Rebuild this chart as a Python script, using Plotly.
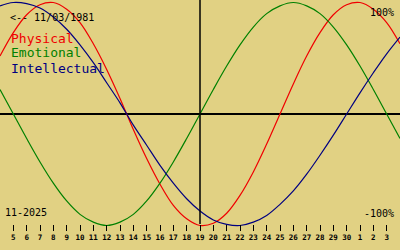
import plotly.graph_objects as go

# Days shown (continuous index: Nov 4 .. Dec 4, 2025 -> 4..34)
days = list(range(4, 35))
tick_days = list(range(5, 34))
tick_labels = [str(d) for d in range(5, 31)] + ["1", "2", "3"]

physical = [0.52, 0.73, 0.89, 0.98, 1.00, 0.94, 0.82, 0.63, 0.40, 0.14,
            -0.14, -0.40, -0.63, -0.82, -0.94, -1.00, -0.98, -0.89, -0.73, -0.52,
            -0.27, 0.00, 0.27, 0.52, 0.73, 0.89, 0.98, 1.00, 0.94, 0.82, 0.63]
emotional = [0.22, 0.00, -0.22, -0.43, -0.62, -0.78, -0.90, -0.97, -1.00, -0.97,
             -0.90, -0.78, -0.62, -0.43, -0.22, 0.00, 0.22, 0.43, 0.62, 0.78,
             0.90, 0.97, 1.00, 0.97, 0.90, 0.78, 0.62, 0.43, 0.22, 0.00, -0.22]
intellectual = [0.97, 1.00, 0.99, 0.95, 0.87, 0.76, 0.62, 0.46, 0.28, 0.10,
                -0.10, -0.28, -0.46, -0.62, -0.76, -0.87, -0.95, -0.99, -1.00, -0.97,
                -0.91, -0.81, -0.69, -0.54, -0.37, -0.19, 0.00, 0.19, 0.37, 0.54, 0.69]

today = 19
birth_text = "<-- 11/03/1981"
month_text = "11-2025"

BG = "#e1d183"
RED = "#f00000"
GREEN = "#008000"
BLUE = "#000080"
MONO = "DejaVu Sans Mono, Liberation Mono, monospace"

fig = go.Figure()
for name, vals, col in [("Physical", physical, RED),
                        ("Emotional", emotional, GREEN),
                        ("Intellectual", intellectual, BLUE)]:
    fig.add_trace(go.Scatter(x=days, y=vals, mode="lines", name=name,
                             line=dict(color=col, width=1.2, shape="spline", smoothing=1),
                             hoverinfo="skip"))

axis_pos = (250 - 224) / 250

fig.add_shape(type="line", xref="x", yref="paper", x0=today, x1=today,
              y0=axis_pos, y1=1, line=dict(color="black", width=1.5))

def ann(text, x, y, color="black", size=10, xanchor="left"):
    fig.add_annotation(text=text, xref="paper", yref="paper", x=x / 400, y=1 - y / 250,
                       xanchor=xanchor, yanchor="middle", showarrow=False,
                       font=dict(family=MONO, size=size, color=color))

ann(birth_text, 8, 17)
ann("Physical", 9, 38, RED, 13)
ann("Emotional", 9, 53, GREEN, 13)
ann("Intellectual", 9, 68.5, BLUE, 13)
ann("100%", 396, 12, xanchor="right")
ann("-100%", 396, 213, xanchor="right")
ann(month_text, 3, 212.5)

fig.update_layout(
    width=400, height=250,
    margin=dict(l=0, r=0, t=0, b=0),
    paper_bgcolor=BG, plot_bgcolor=BG,
    showlegend=False,
    xaxis=dict(range=[4, 34], anchor="free", position=axis_pos,
               tickvals=tick_days, ticktext=tick_labels,
               ticks="outside", ticklen=6, tickwidth=1, tickcolor="black",
               tickfont=dict(family=MONO, size=7.5, color="black", weight="bold"),
               showline=False, showgrid=False, zeroline=False),
    yaxis=dict(range=[-1.2197, 1.0224], showticklabels=False, ticks="",
               showgrid=False, zeroline=True, zerolinecolor="black",
               zerolinewidth=1.5, showline=False),
)

fig.write_html("out.html", config={"displayModeBar": False})
